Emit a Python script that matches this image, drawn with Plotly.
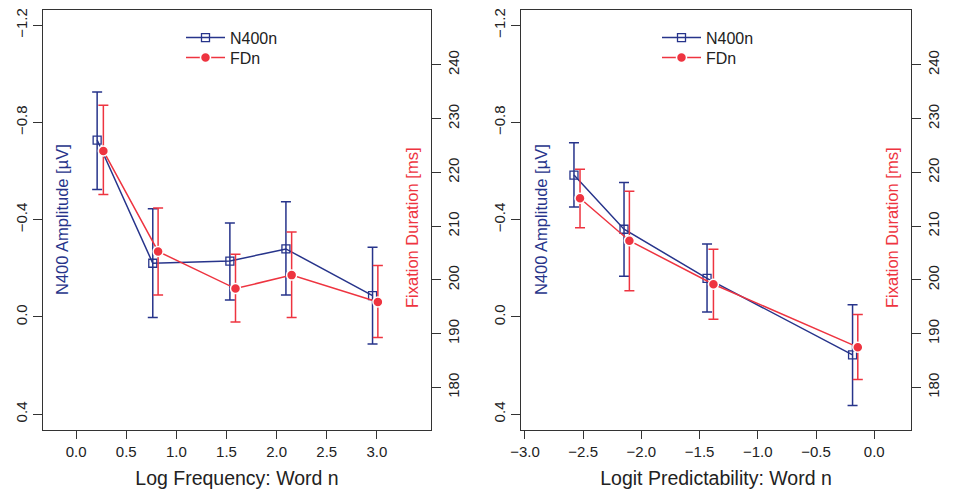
import plotly.graph_objects as go

# ---------------- data ----------------
# Panel 1: Log Frequency
freq_x_n400 = [0.21, 0.765, 1.534, 2.093, 2.957]
freq_n400 = [-0.728, -0.221, -0.230, -0.280, -0.088]
freq_n400_hi = [-0.931, -0.444, -0.390, -0.470, -0.287]   # upper (more negative) end
freq_n400_lo = [-0.530, 0.003, -0.073, -0.086, 0.111]

freq_x_fd = [0.272, 0.818, 1.59, 2.15, 3.01]
freq_fd = [224.0, 205.3, 198.4, 200.9, 195.9]
freq_fd_hi = [232.5, 213.4, 204.8, 208.9, 202.7]
freq_fd_lo = [215.9, 197.2, 192.2, 193.0, 189.3]

# Panel 2: Logit Predictability
pred_x_n400 = [-2.579, -2.149, -1.436, -0.186]
pred_n400 = [-0.584, -0.361, -0.159, 0.156]
pred_n400_hi = [-0.715, -0.554, -0.298, -0.052]
pred_n400_lo = [-0.451, -0.169, -0.018, 0.362]

pred_x_fd = [-2.527, -2.103, -1.381, -0.141]
pred_fd = [215.2, 207.3, 199.2, 187.5]
pred_fd_hi = [220.6, 216.5, 205.7, 193.6]
pred_fd_lo = [209.7, 198.0, 192.7, 181.5]

amp_ticks = [-1.2, -0.8, -0.4, 0.0, 0.4]
fd_ticks = [180, 190, 200, 210, 220, 230, 240]
freq_ticks = [0.0, 0.5, 1.0, 1.5, 2.0, 2.5, 3.0]
pred_ticks = [-3.0, -2.5, -2.0, -1.5, -1.0, -0.5, 0.0]

BLUE = "#27348B"
RED = "#EE3440"
AXC = "#333333"
FONT = "Liberation Sans, Arial, sans-serif"

# page has an 8px body margin: figure is sized to fill the rest of the window
OFF = 8
W, H = 954 - OFF, 495 - OFF


def px(x):
    return (x - OFF) / W


def py(y):
    return 1 - (y - OFF) / H


fig = go.Figure()


def add_pair(xn, yn, yn_hi, yn_lo, xf, yf, yf_hi, yf_lo, xa, ya_amp, ya_fd, leg_n, leg_f):
    fig.add_trace(go.Scatter(
        x=xn, y=yn, mode="lines+markers", name="N400n",
        line=dict(color=BLUE, width=1.5),
        marker=dict(symbol="square-open", size=8, color=BLUE, line=dict(width=1.3)),
        error_y=dict(type="data", symmetric=False,
                     array=[yn[i] - yn_hi[i] for i in range(len(yn))],
                     arrayminus=[yn_lo[i] - yn[i] for i in range(len(yn))],
                     color=BLUE, thickness=1.5, width=5),
        xaxis=xa, yaxis=ya_amp, legend=leg_n,
    ))
    fig.add_trace(go.Scatter(
        x=xf, y=yf, mode="lines+markers", name="FDn",
        line=dict(color=RED, width=1.5),
        marker=dict(symbol="circle", size=10, color=RED, line=dict(color="white", width=1.5)),
        error_y=dict(type="data", symmetric=False,
                     array=[yf_hi[i] - yf[i] for i in range(len(yf))],
                     arrayminus=[yf[i] - yf_lo[i] for i in range(len(yf))],
                     color=RED, thickness=1.5, width=5),
        xaxis=xa, yaxis=ya_fd, legend=leg_f,
    ))


add_pair(freq_x_n400, freq_n400, freq_n400_hi, freq_n400_lo,
         freq_x_fd, freq_fd, freq_fd_hi, freq_fd_lo, "x", "y", "y2", "legend", "legend2")
add_pair(pred_x_n400, pred_n400, pred_n400_hi, pred_n400_lo,
         pred_x_fd, pred_fd, pred_fd_hi, pred_fd_lo, "x2", "y3", "y4", "legend3", "legend4")

dom1 = [px(43), px(431)]
dom2 = [px(521), px(911)]
ydom = [py(430), py(10)]

tickfont = dict(family=FONT, size=15, color="#222222")


def xaxis(dom, ticks, rng, title, anchor):
    return dict(domain=dom, range=rng, tickvals=ticks, tickformat=".1f",
                showline=True, mirror=True, linecolor=AXC, linewidth=1.2,
                ticks="outside", ticklen=8, tickcolor=AXC, tickwidth=1.2,
                showgrid=False, zeroline=False, tickfont=tickfont, automargin=False,
                title=dict(text=title, font=dict(family=FONT, size=19.5, color="#222222"), standoff=12),
                anchor=anchor)


def yamp(dom, anchor):
    return dict(domain=ydom, range=[0.465, -1.263], tickvals=amp_ticks, tickformat=".1f",
                showline=True, mirror=True, linecolor=AXC, linewidth=1.2,
                ticks="outside", ticklen=9, tickcolor=AXC, tickwidth=1.2, tickangle=-90,
                showgrid=False, zeroline=False, tickfont=tickfont, anchor=anchor,
                automargin=False)


def yfd(overlay, anchor):
    return dict(overlaying=overlay, side="right", range=[172.1, 250.2], tickvals=fd_ticks,
                showline=True, linecolor=AXC, linewidth=1.2,
                ticks="outside", ticklen=9, tickcolor=AXC, tickwidth=1.2, tickangle=-90,
                showgrid=False, zeroline=False, tickfont=tickfont, anchor=anchor,
                automargin=False)


legend_style = dict(font=dict(family=FONT, size=16, color="#222222"), bgcolor="rgba(0,0,0,0)",
                    yanchor="middle", xanchor="left", itemwidth=39)

fig.update_layout(
    width=W, height=H, margin=dict(l=0, r=0, t=0, b=0, autoexpand=False),
    paper_bgcolor="white", plot_bgcolor="white",
    xaxis=xaxis(dom1, freq_ticks, [-0.33, 3.54], "Log Frequency: Word n", "y"),
    yaxis=yamp(dom1, "x"),
    yaxis2=yfd("y", "x"),
    xaxis2=xaxis(dom2, pred_ticks, [-3.034, 0.316], "Logit Predictability: Word n", "y3"),
    yaxis3=yamp(dom2, "x2"),
    yaxis4=yfd("y3", "x2"),
    legend=dict(x=px(181), y=py(37.7), **legend_style),
    legend2=dict(x=px(181), y=py(57.7), **legend_style),
    legend3=dict(x=px(657), y=py(37.7), **legend_style),
    legend4=dict(x=px(657), y=py(57.7), **legend_style),
    showlegend=True,
)

for text, x, y, color in [
    ("N400 Amplitude [µV]", 62, 220, BLUE),
    ("Fixation Duration [ms]", 412, 228, RED),
    ("N400 Amplitude [µV]", 541, 220, BLUE),
    ("Fixation Duration [ms]", 892, 228, RED),
]:
    fig.add_annotation(text=text, x=px(x), y=py(y), xref="paper", yref="paper",
                       xanchor="center", yanchor="middle",
                       textangle=-90, showarrow=False,
                       font=dict(family=FONT, size=16.5, color=color))

fig.write_html("out.html")
